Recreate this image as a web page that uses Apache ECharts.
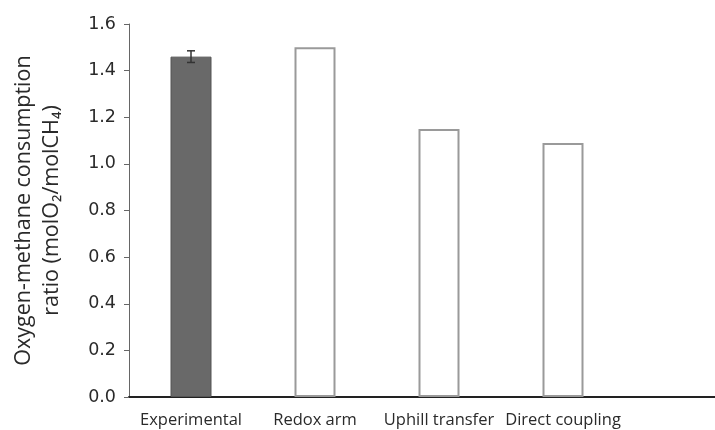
<!DOCTYPE html>
<html>
<head>
<meta charset="utf-8">
<script src="https://cdn.jsdelivr.net/npm/echarts@6/dist/echarts.min.js"></script>
<style>html,body{margin:0;padding:0;background:#fff}#c{width:715px;height:430px}</style>
</head>
<body>
<div id="c"></div>
<script>
var categories = ['Experimental', 'Redox arm', 'Uphill transfer', 'Direct coupling'];
var ratioValues = [1.46, 1.50, 1.15, 1.09];
var errorLow = [1.435, null, null, null];
var errorHigh = [1.485, null, null, null];
var yTicks = [0, 0.2, 0.4, 0.6, 0.8, 1.0, 1.2, 1.4, 1.6];

var FONT = 'Open Sans';
var chart = echarts.init(document.getElementById('c'), null, {renderer: 'canvas'});

var barData = ratioValues.map(function (v, i) {
  return i === 0
    ? {value: v, itemStyle: {color: '#696969', borderColor: '#555', borderWidth: 1}}
    : {value: v, itemStyle: {color: '#ffffff', borderColor: '#9a9a9a', borderWidth: 2}};
});
var errData = [];
categories.forEach(function (c, i) {
  if (errorLow[i] != null) errData.push([i, errorLow[i], errorHigh[i]]);
});

chart.setOption({
  animation: false,
  grid: [
    {left: 129, right: 90, top: 24, bottom: 33, containLabel: false, outerBoundsMode: 'none'},
    {left: 129, right: 0, top: 24, bottom: 33, containLabel: false, outerBoundsMode: 'none'}
  ],
  xAxis: [
    {
      type: 'category', gridIndex: 0, data: categories,
      axisLine: {show: false}, axisTick: {show: false},
      axisLabel: {color: '#2a2a2a', fontFamily: FONT, fontSize: 16.5, margin: 15, interval: 0}
    },
    {
      type: 'value', gridIndex: 1, min: 0, max: 1,
      axisLine: {show: true, lineStyle: {color: '#222', width: 2}},
      axisTick: {show: false}, axisLabel: {show: false}, splitLine: {show: false}
    }
  ],
  yAxis: [
    {
      type: 'value', gridIndex: 0, min: 0, max: 1.6, interval: 0.2,
      axisLine: {show: true, lineStyle: {color: '#666', width: 1}},
      axisTick: {show: true, length: 5, lineStyle: {color: '#666'}},
      splitLine: {show: false},
      axisLabel: {
        color: '#2a2a2a', fontFamily: 'DejaVu Sans', fontSize: 17.5, margin: 13,
        formatter: function (v) { return v.toFixed(1); }
      },
      name: 'Oxygen-methane consumption\nratio (molO\u2082/molCH\u2084)',
      nameLocation: 'middle', nameGap: 63, nameRotate: 90,
      nameTextStyle: {color: '#2a2a2a', fontFamily: FONT, fontSize: 21.5, lineHeight: 28}
    },
    {type: 'value', gridIndex: 1, min: 0, max: 1, show: false}
  ],
  series: [
    {
      type: 'bar', xAxisIndex: 0, yAxisIndex: 0, data: barData, barWidth: 41
    },
    {
      type: 'custom', xAxisIndex: 0, yAxisIndex: 0, data: errData, z: 5,
      renderItem: function (params, api) {
        var x = api.value(0);
        var lo = api.coord([x, api.value(1)]);
        var hi = api.coord([x, api.value(2)]);
        var hw = 4;
        var st = {stroke: '#333', lineWidth: 1.5};
        return {
          type: 'group',
          children: [
            {type: 'line', shape: {x1: lo[0], y1: lo[1], x2: hi[0], y2: hi[1]}, style: st},
            {type: 'line', shape: {x1: lo[0] - hw, y1: lo[1], x2: lo[0] + hw, y2: lo[1]}, style: st},
            {type: 'line', shape: {x1: hi[0] - hw, y1: hi[1], x2: hi[0] + hw, y2: hi[1]}, style: st}
          ]
        };
      }
    }
  ]
});
</script>
</body>
</html>
